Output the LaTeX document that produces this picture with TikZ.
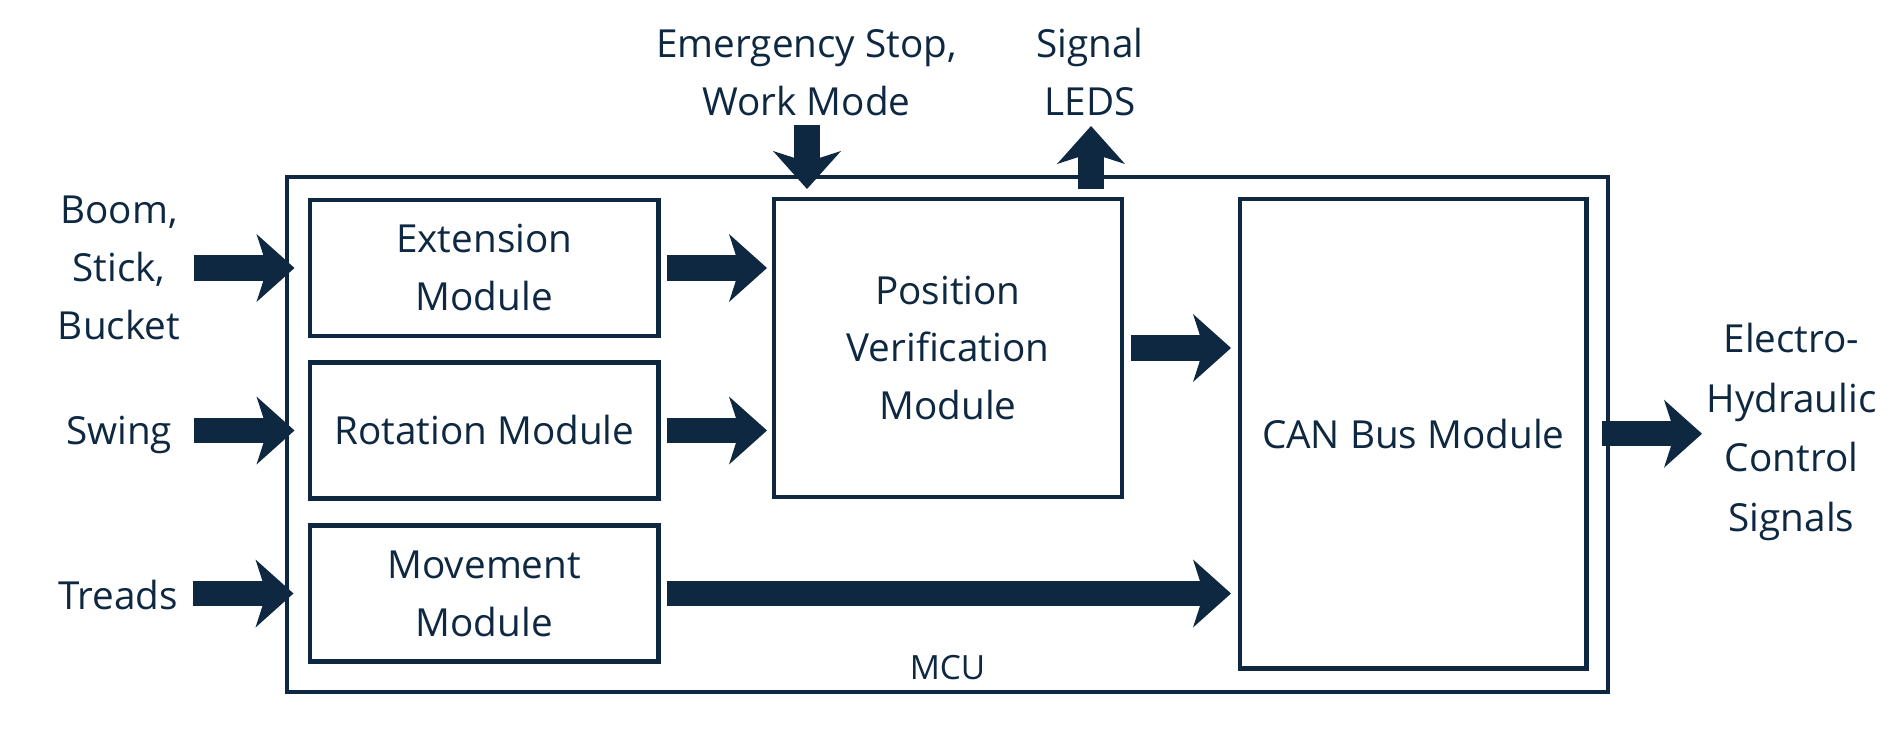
\documentclass[tikz,border=0pt]{standalone}
\usepackage{fontspec}
\setmainfont{Open Sans}
\usepackage{tikz}
\usetikzlibrary{arrows.meta,positioning,calc}
\definecolor{navy}{HTML}{0E2841}

\begin{document}
\begin{tikzpicture}[font={\fontsize{22}{33}\selectfont}, text=navy,
  box/.style={draw=navy, line width=2.8pt, align=center, outer sep=0pt, inner sep=2pt},
  lab/.style={align=center, inner sep=1pt},
  flow/.style={navy, line width=0.51cm, -{Stealth[length=0.76cm, width=1.36cm, inset=0.22cm, line width=0pt]}}]
\useasboundingbox (0,0) rectangle (37.94,14.66);
% MCU frame
\node[box, minimum width=26.42cm, minimum height=10.30cm] (mcu) at (18.95,5.97) {};
\node[lab, font={\fontsize{19}{24}\selectfont}] (mcutxt) at (18.95,1.30) {MCU};
% modules
\node[box, minimum width=6.97cm, minimum height=2.72cm] (ext) at (9.685,9.30) {Extension\\Module};
\node[box, minimum width=6.97cm, minimum height=2.72cm] (rot) at (9.685,6.05) {Rotation Module};
\node[box, minimum width=6.97cm, minimum height=2.72cm] (mov) at (9.685,2.79) {Movement\\Module};
\node[box, minimum width=6.96cm, minimum height=5.96cm] (pv) at (18.96,7.70) {Position\\Verification\\Module};
\node[box, minimum width=6.93cm, minimum height=9.39cm] (can) at (28.265,5.985) {CAN Bus Module};
% outside labels
\node[lab] (boom) at (2.38,9.30) {Boom,\\Stick,\\Bucket};
\node[lab] (swing) at (2.38,5.96) {Swing};
\node[lab] (treads) at (2.36,2.77) {Treads};
\node[lab] (estop) at (16.13,13.21) {Emergency Stop,\\Work Mode};
\node[lab] (leds) at (21.80,13.21) {Signal\\LEDS};
\node[lab, font={\fontsize{22}{34}\selectfont}] (ehcs) at (35.83,6.02) {Electro-\\Hydraulic\\Control\\Signals};
% free ends
\coordinate (boomin) at (3.88,9.30);
\coordinate (swingin) at (3.88,6.05);
\coordinate (treadsin) at (3.85,2.79);
\coordinate (estopin) at (16.14,12.16);
\coordinate (ledsout) at (21.82,12.14);
\coordinate (ehcsout) at (34.04,5.985);
% inputs
\draw[flow, shorten >=0.31cm] (boomin) -- (ext.west);
\draw[flow, shorten >=0.31cm] (swingin) -- (rot.west);
\draw[flow, shorten >=0.33cm] (treadsin) -- (mov.west);
\draw[flow, shorten >=0.20cm] (estopin) -- (estopin |- pv.north);
% module links
\draw[flow, shorten <=0.16cm, shorten >=0.14cm] (ext.east) -- (ext.east -| pv.west);
\draw[flow, shorten <=0.16cm, shorten >=0.14cm] (rot.east) -- (rot.east -| pv.west);
\draw[flow, shorten <=0.17cm, shorten >=0.18cm] (pv.east) -- (pv.east -| can.west);
\draw[flow, shorten <=0.16cm, shorten >=0.18cm] (mov.east) -- (mov.east -| can.west);
% outputs
\draw[flow, shorten <=0.20cm] (ledsout |- pv.north) -- (ledsout);
\draw[flow, shorten <=0.31cm] (can.east) -- (ehcsout);
\end{tikzpicture}
\end{document}
